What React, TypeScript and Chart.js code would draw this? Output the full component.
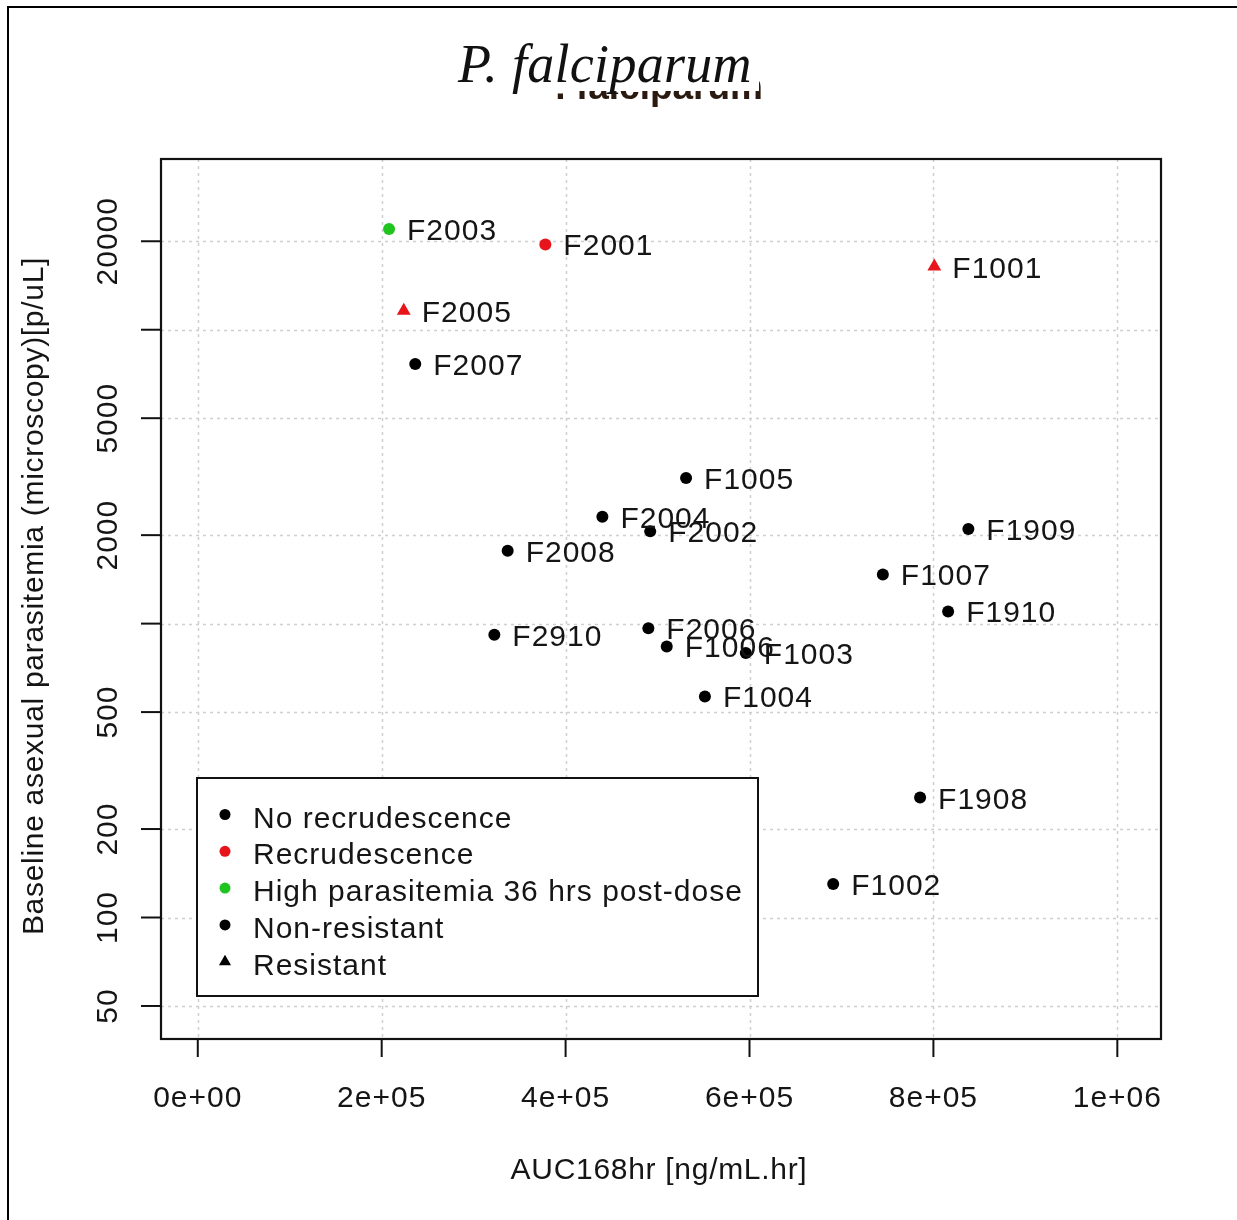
import React, { useEffect, useRef } from 'react';
import { Chart, registerables } from 'chart.js';

Chart.register(...registerables);

const W = 1237;
const H = 1220;

// Per-subject values
const sampleIds = [
  'F2003', 'F2001', 'F1001', 'F2005', 'F2007', 'F1005', 'F2004', 'F2002', 'F2008', 'F1909',
  'F1007', 'F1910', 'F2910', 'F2006', 'F1006', 'F1003', 'F1004', 'F1908', 'F1002',
];
const aucValues = [
  208000, 378000, 801000, 224000, 236500, 531000, 440000, 492000, 337000, 838000,
  745000, 816000, 322500, 490000, 510000, 596000, 551500, 785500, 691000,
];
const parasitemiaValues = [
  22000, 19500, 16400, 11600, 7650, 3130, 2310, 2060, 1770, 2100,
  1470, 1100, 916, 965, 836, 794, 565, 256, 130,
];
const outcomes = [
  'high', 'recrudescence', 'recrudescence', 'recrudescence', 'none', 'none', 'none', 'none', 'none', 'none',
  'none', 'none', 'none', 'none', 'none', 'none', 'none', 'none', 'none',
];
const resistance = [
  'non-resistant', 'non-resistant', 'resistant', 'resistant', 'non-resistant', 'non-resistant',
  'non-resistant', 'non-resistant', 'non-resistant', 'non-resistant', 'non-resistant',
  'non-resistant', 'non-resistant', 'non-resistant', 'non-resistant', 'non-resistant',
  'non-resistant', 'non-resistant', 'non-resistant',
];

// Axes
const xTickValues = [0, 200000, 400000, 600000, 800000, 1000000];
const xTickLabels = ['0e+00', '2e+05', '4e+05', '6e+05', '8e+05', '1e+06'];
const yTickValues = [50, 100, 200, 500, 1000, 2000, 5000, 10000, 20000];
const yTickLabels = ['50', '100', '200', '500', '', '2000', '5000', '', '20000'];

// Legend
const legendLabels = [
  'No recrudescence',
  'Recrudescence',
  'High parasitemia 36 hrs post-dose',
  'Non-resistant',
  'Resistant',
];
const legendColors = ['#000000', '#e8141c', '#1fc41f', '#000000', '#000000'];
const legendShapes = ['circle', 'circle', 'circle', 'circle', 'triangle'];

const titleText = 'P. falciparum';
const xAxisTitle = 'AUC168hr [ng/mL.hr]';
const yAxisTitle = 'Baseline asexual parasitemia (microscopy)[p/uL]';

const outcomeColors: Record<string, string> = {
  none: '#000000',
  recrudescence: '#e8141c',
  high: '#1fc41f',
};

const SANS = '"Liberation Sans", Arial, "DejaVu Sans", sans-serif';
const SERIF = '"Liberation Serif", "Times New Roman", "DejaVu Serif", serif';
const TEXT = '#151515';

function buildDatasets() {
  const groups: Record<string, any> = {};
  sampleIds.forEach((id, i) => {
    const key = outcomes[i] + '|' + resistance[i];
    if (!groups[key]) {
      const tri = resistance[i] === 'resistant';
      groups[key] = {
        label: key,
        data: [] as any[],
        pointStyle: tri ? 'triangle' : 'circle',
        pointRadius: tri ? 8 : 6,
        backgroundColor: outcomeColors[outcomes[i]],
        borderColor: outcomeColors[outcomes[i]],
        borderWidth: 0,
        showLine: false,
      };
    }
    groups[key].data.push({ x: aucValues[i], y: parasitemiaValues[i], id });
  });
  return Object.values(groups);
}

function drawMarker(ctx: CanvasRenderingContext2D, shape: string, x: number, y: number, color: string) {
  ctx.fillStyle = color;
  ctx.beginPath();
  if (shape === 'triangle') {
    const r = 7;
    ctx.moveTo(x, y - r);
    ctx.lineTo(x + r * 0.866, y + r / 2);
    ctx.lineTo(x - r * 0.866, y + r / 2);
    ctx.closePath();
  } else {
    ctx.arc(x, y, 5.5, 0, Math.PI * 2);
  }
  ctx.fill();
}

function sansText(ctx: any, size: number, spacing = '1px') {
  ctx.font = size + 'px ' + SANS;
  ctx.letterSpacing = spacing;
  ctx.fillStyle = TEXT;
}

const basePlot = {
  id: 'basePlot',
  beforeDatasetsDraw(chart: any) {
    const { ctx, chartArea: a, scales } = chart;
    const xs = scales.x;
    const ys = scales.y;
    ctx.save();

    // outer frame
    ctx.strokeStyle = '#000';
    ctx.lineWidth = 2;
    ctx.beginPath();
    ctx.moveTo(8, H);
    ctx.lineTo(8, 7);
    ctx.lineTo(W, 7);
    ctx.stroke();

    // subtitle strip beneath the title
    ctx.save();
    ctx.beginPath();
    ctx.rect(548, 91, 225, 30);
    ctx.rect(759, 78, 8, 30);
    ctx.clip();
    ctx.fillStyle = '#2a1a10';
    ctx.font = 'bold 37px ' + SANS;
    ctx.textAlign = 'right';
    ctx.textBaseline = 'alphabetic';
    ctx.fillText(titleText, 763, 99);
    ctx.restore();

    // title
    ctx.fillStyle = '#111';
    ctx.font = 'italic 54px ' + SERIF;
    ctx.letterSpacing = '0.3px';
    ctx.textAlign = 'left';
    ctx.textBaseline = 'alphabetic';
    ctx.fillText(titleText, 458, 82);

    // grid
    ctx.strokeStyle = '#cfcfcf';
    ctx.lineWidth = 1.5;
    ctx.setLineDash([3, 4]);
    xTickValues.forEach((v) => {
      const px = Math.round(xs.getPixelForValue(v)) + 0.5;
      ctx.beginPath();
      ctx.moveTo(px, a.top);
      ctx.lineTo(px, a.bottom);
      ctx.stroke();
    });
    yTickValues.forEach((v) => {
      const py = Math.round(ys.getPixelForValue(v)) + 0.5;
      ctx.beginPath();
      ctx.moveTo(a.left, py);
      ctx.lineTo(a.right, py);
      ctx.stroke();
    });
    ctx.setLineDash([]);

    // plot box
    ctx.strokeStyle = '#111';
    ctx.lineWidth = 2.2;
    ctx.strokeRect(a.left, a.top, a.right - a.left, a.bottom - a.top);

    // x ticks
    ctx.lineWidth = 2;
    sansText(ctx, 30);
    ctx.textAlign = 'center';
    ctx.textBaseline = 'alphabetic';
    xTickValues.forEach((v, i) => {
      const px = xs.getPixelForValue(v);
      ctx.beginPath();
      ctx.moveTo(px, a.bottom);
      ctx.lineTo(px, a.bottom + 18);
      ctx.stroke();
      ctx.fillText(xTickLabels[i], px, 1107);
    });

    // y ticks
    yTickValues.forEach((v, i) => {
      const py = ys.getPixelForValue(v);
      ctx.beginPath();
      ctx.moveTo(a.left, py);
      ctx.lineTo(a.left - 20, py);
      ctx.stroke();
      if (yTickLabels[i]) {
        ctx.save();
        ctx.translate(117, py);
        ctx.rotate(-Math.PI / 2);
        ctx.textAlign = 'center';
        ctx.textBaseline = 'alphabetic';
        ctx.fillText(yTickLabels[i], 0, 0);
        ctx.restore();
      }
    });

    // axis titles
    sansText(ctx, 30, '0.7px');
    ctx.textAlign = 'center';
    ctx.fillText(xAxisTitle, (a.left + a.right) / 2 - 2, 1179);
    ctx.save();
    ctx.translate(43, (a.top + a.bottom) / 2 - 3);
    ctx.rotate(-Math.PI / 2);
    ctx.fillText(yAxisTitle, 0, 0);
    ctx.restore();

    ctx.restore();
  },
  afterDatasetsDraw(chart: any) {
    const { ctx } = chart;
    ctx.save();

    // point labels
    sansText(ctx, 30);
    ctx.textAlign = 'left';
    ctx.textBaseline = 'alphabetic';
    chart.data.datasets.forEach((ds: any, di: number) => {
      const meta = chart.getDatasetMeta(di);
      meta.data.forEach((el: any, i: number) => {
        ctx.fillText(ds.data[i].id, el.x + 18, el.y + 11);
      });
    });

    // legend
    const lx = 197, ly = 778, lw = 561, lh = 218;
    ctx.fillStyle = '#fff';
    ctx.fillRect(lx, ly, lw, lh);
    ctx.strokeStyle = '#111';
    ctx.lineWidth = 2;
    ctx.strokeRect(lx, ly, lw, lh);
    legendLabels.forEach((lab, i) => {
      const ry = 814.5 + i * 36.8;
      drawMarker(ctx, legendShapes[i], 225, ry, legendColors[i]);
      sansText(ctx, 30);
      ctx.fillText(lab, 253, ry + 13);
    });

    ctx.restore();
  },
};

export default function App() {
  const ref = useRef<HTMLCanvasElement | null>(null);

  useEffect(() => {
    if (!ref.current) return;
    const chart = new Chart(ref.current, {
      type: 'scatter',
      data: { datasets: buildDatasets() as any },
      options: {
        responsive: false,
        animation: false,
        events: [],
        devicePixelRatio: 1,
        layout: { padding: { left: 161, top: 159, right: W - 1161, bottom: H - 1039 } },
        scales: {
          x: { type: 'linear', min: -40000, max: 1047500, display: false },
          y: { type: 'logarithmic', min: 38.6, max: 38100, display: false },
        },
        plugins: {
          legend: { display: false },
          tooltip: { enabled: false },
          title: { display: false },
        },
      },
      plugins: [basePlot],
    });
    return () => chart.destroy();
  }, []);

  return (
    <div style={{ position: 'absolute', left: 0, top: 0, width: W, height: H, background: '#fff' }}>
      <canvas ref={ref} width={W} height={H} style={{ display: 'block' }} />
    </div>
  );
}
